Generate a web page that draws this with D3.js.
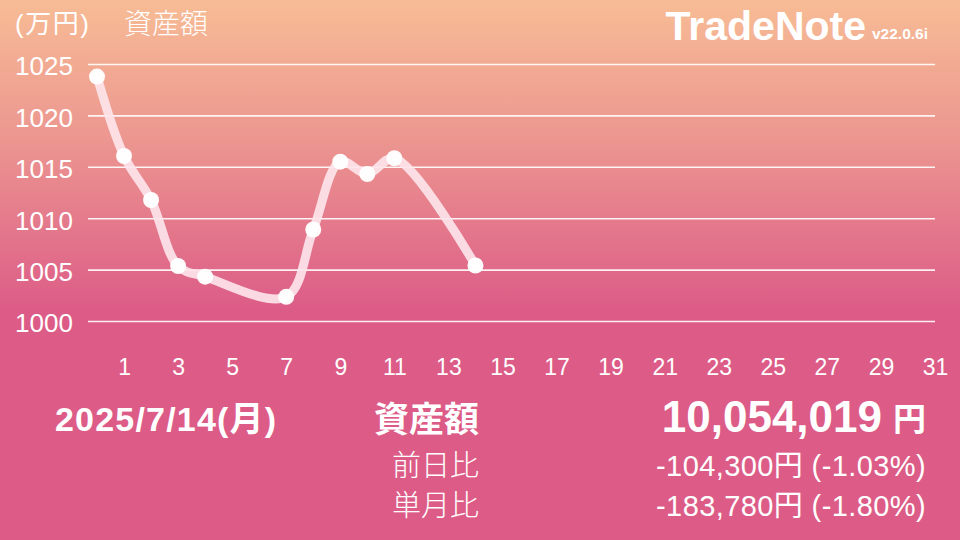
<!DOCTYPE html>
<html><head><meta charset="utf-8">
<script src="https://cdn.jsdelivr.net/npm/d3@7/dist/d3.min.js"></script>
<style>
html,body{margin:0;padding:0;background:#dc5c87;}
svg{display:block;}
.lat{font-family:"Liberation Sans","Helvetica Neue",Arial,"Noto Sans CJK JP",sans-serif;}
</style></head>
<body>
<svg id="c" width="960" height="540"></svg>
<script>
// ---- data ----
const days = [0, 1, 2, 3, 4, 7, 8, 9, 10, 11, 14];
const assets = [1023.78, 1016.05, 1011.77, 1005.35, 1004.31, 1002.35, 1008.90, 1015.50, 1014.30, 1015.83, 1005.40];
const yTicks = [1000, 1005, 1010, 1015, 1020, 1025];
const xTicks = [1, 3, 5, 7, 9, 11, 13, 15, 17, 19, 21, 23, 25, 27, 29, 31];
const unitLabel = "(万円)";
const seriesLabel = "資産額";
const brand = "TradeNote";
const version = "v22.0.6i";
const dateLabel = "2025/7/14(月)";
const totalLabel = "資産額";
const totalValue = "10,054,019";
const yen = "円";
const rowLabels = ["前日比", "単月比"];
const rowValues = ["-104,300円 (-1.03%)", "-183,780円 (-1.80%)"];

const svg = d3.select("#c");
const W = 960, H = 540;

// background gradient
const defs = svg.append("defs");
const g = defs.append("linearGradient").attr("id", "bg")
  .attr("gradientUnits", "userSpaceOnUse").attr("x1", 0).attr("y1", 0).attr("x2", 0).attr("y2", 310);
g.append("stop").attr("offset", "0%").attr("stop-color", "#f7bc95");
g.append("stop").attr("offset", "45%").attr("stop-color", "#ec9690");
g.append("stop").attr("offset", "100%").attr("stop-color", "#dc5c87");
svg.append("rect").attr("width", W).attr("height", H).attr("fill", "url(#bg)");

const x = d3.scaleLinear().domain([0, 31]).range([97, 935]);
const y = d3.scaleLinear().domain([1000, 1025]).range([321, 64]);
const gridLeft = 88;

// grid via axis
const grid = svg.append("g").attr("transform", `translate(${x(31)},0)`)
  .call(d3.axisLeft(y).tickValues(yTicks).tickSize(x(31) - gridLeft).tickFormat(""));
grid.select(".domain").remove();
grid.selectAll(".tick line").attr("stroke", "#fff").attr("stroke-opacity", 0.9).attr("stroke-width", 1.6);

// y labels
const yl = svg.append("g").attr("transform", `translate(15,0)`)
  .call(d3.axisLeft(y).tickValues(yTicks).tickSize(0).tickPadding(0).tickFormat(d3.format("d")));
yl.select(".domain").remove();
yl.selectAll(".tick text").attr("class", "lat").attr("text-anchor", "start").attr("x", 0).attr("dy", "0.42em")
  .attr("fill", "#fff").attr("font-size", 26).attr("font-family", null);

// x labels
const xl = svg.append("g").attr("transform", `translate(0,${y(1000)})`)
  .call(d3.axisBottom(x).tickValues(xTicks).tickSize(0).tickPadding(0).tickFormat(d3.format("d")));
xl.select(".domain").remove();
xl.selectAll(".tick text").attr("class", "lat").attr("y", 46).attr("dy", "0.35em")
  .attr("fill", "#fff").attr("font-size", 23).attr("font-family", null);

// line
const pts = days.map((d, i) => [d, assets[i]]);
const line = d3.line().x(d => x(d[0])).y(d => y(d[1])).curve(d3.curveCatmullRom.alpha(0.5));
svg.append("path").attr("d", line(pts)).attr("fill", "none")
  .attr("stroke", "#fde4ea").attr("stroke-opacity", 0.92).attr("stroke-width", 9)
  .attr("stroke-linecap", "round").attr("stroke-linejoin", "round");
svg.append("g").selectAll("circle").data(pts).join("circle")
  .attr("cx", d => x(d[0])).attr("cy", d => y(d[1])).attr("r", 8).attr("fill", "#fff").attr("fill-opacity", 0.97);

// header texts
svg.append("text").attr("class", "lat").attr("x", 15).attr("y", 33).attr("fill", "#fff")
  .attr("font-size", 26).attr("letter-spacing", 1.5).text(unitLabel);
svg.append("text").attr("x", 124).attr("y", 34).attr("fill", "#fff")
  .attr("font-family", "'Noto Sans CJK JP',sans-serif").attr("font-weight", 300).attr("font-size", 28).text(seriesLabel);
svg.append("text").attr("class", "lat").attr("x", 866).attr("y", 40).attr("text-anchor", "end").attr("fill", "#fff")
  .attr("font-size", 41).attr("font-weight", "bold").text(brand);
svg.append("text").attr("class", "lat").attr("x", 872).attr("y", 39).attr("fill", "#fff")
  .attr("font-size", 15.5).attr("font-weight", "bold").text(version);

// bottom summary
svg.append("text").attr("class", "lat").attr("x", 55).attr("y", 431).attr("fill", "#fff")
  .attr("font-size", 34).attr("font-weight", "bold").attr("letter-spacing", 1.2).text(dateLabel);
svg.append("text").attr("x", 479).attr("y", 432).attr("text-anchor", "end").attr("fill", "#fff")
  .attr("font-family", "'Noto Sans CJK JP',sans-serif").attr("font-weight", "bold").attr("font-size", 35).text(totalLabel);
svg.append("text").attr("class", "lat").attr("x", 882).attr("y", 432).attr("text-anchor", "end").attr("fill", "#fff")
  .attr("font-size", 44).attr("font-weight", "bold").text(totalValue);
svg.append("text").attr("x", 926).attr("y", 431).attr("text-anchor", "end").attr("fill", "#fff")
  .attr("font-family", "'Noto Sans CJK JP',sans-serif").attr("font-weight", "bold").attr("font-size", 33).text(yen);

rowLabels.forEach((t, i) => {
  const yy = 476 + i * 40;
  svg.append("text").attr("x", 479).attr("y", yy).attr("text-anchor", "end").attr("fill", "#fff")
    .attr("font-family", "'Noto Sans CJK JP',sans-serif").attr("font-weight", 300).attr("font-size", 29).text(t);
  svg.append("text").attr("class", "lat").attr("x", 926).attr("y", yy).attr("text-anchor", "end").attr("fill", "#fff")
    .attr("font-size", 29).attr("letter-spacing", 0.4).text(rowValues[i]);
});
</script>
</body></html>
